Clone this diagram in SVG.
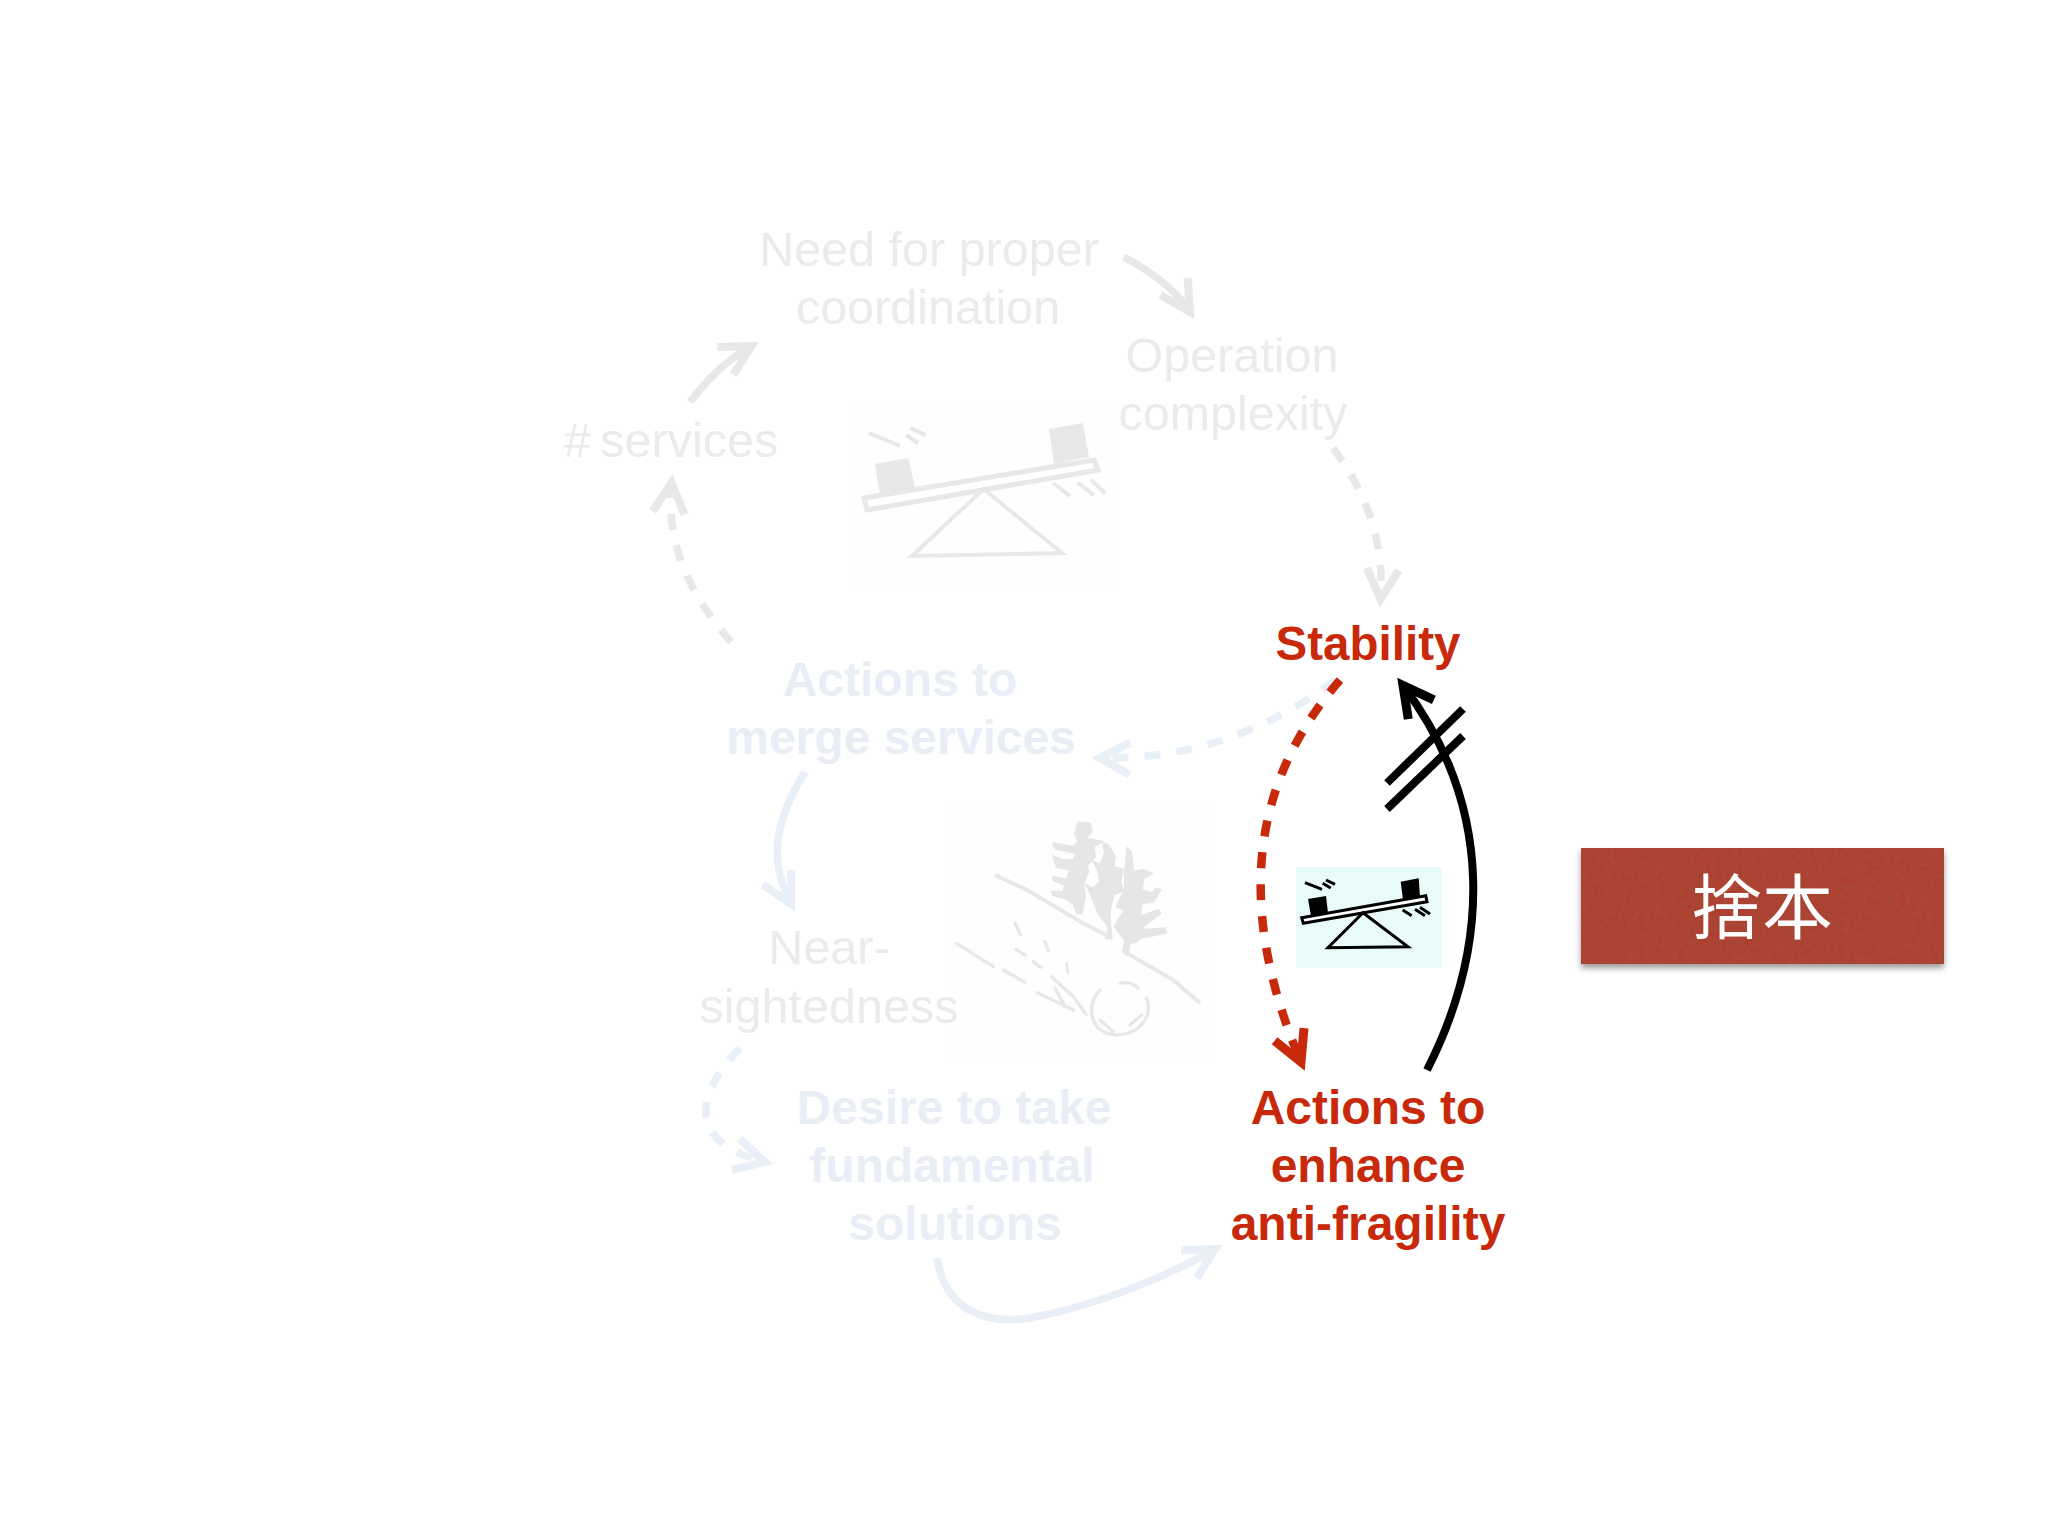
<svg xmlns="http://www.w3.org/2000/svg" width="2048" height="1536" viewBox="0 0 2048 1536">
<style>
text{font-family:"Liberation Sans",Arial,sans-serif;font-size:48.5px;text-anchor:middle}
.g{fill:#ebebeb}
.b{fill:#e9eef6;font-weight:700;font-size:48px}
.r{fill:#c8290b;font-weight:700;font-size:48px}
.c{fill:none;stroke-width:7.5}
.dash{stroke-dasharray:16 16}
.cg{stroke:#e8e8e8}
.cb{stroke:#e9eff7}
.cr{stroke:#c8290b;stroke-width:8.5}
.ck{stroke:#000;stroke-width:8}
.sg{fill:none;stroke:#e8e8e8;stroke-width:4}
.st{fill:none;stroke:#e8e8e8;stroke-width:10;stroke-linecap:round}
.sk{fill:none;stroke:#000;stroke-width:3}
</style>
<defs>
<marker id="hg" markerUnits="userSpaceOnUse" markerWidth="50" markerHeight="50" refX="40" refY="25" orient="auto" overflow="visible"><path d="M10 9L40 25L10 41" fill="none" stroke="#e8e8e8" stroke-width="8"/></marker>
<marker id="hb" markerUnits="userSpaceOnUse" markerWidth="50" markerHeight="50" refX="40" refY="25" orient="auto" overflow="visible"><path d="M10 9L40 25L10 41" fill="none" stroke="#e9eff7" stroke-width="8"/></marker>
<marker id="hr" markerUnits="userSpaceOnUse" markerWidth="50" markerHeight="50" refX="40" refY="25" orient="auto" overflow="visible"><path d="M10 9L40 25L10 41" fill="none" stroke="#c8290b" stroke-width="9"/></marker>
<marker id="hk" markerUnits="userSpaceOnUse" markerWidth="50" markerHeight="50" refX="40" refY="25" orient="auto" overflow="visible"><path d="M10 9L40 25L10 41" fill="none" stroke="#000" stroke-width="9"/></marker>
<filter id="blur" x="-10%" y="-20%" width="120%" height="140%"><feGaussianBlur stdDeviation="3"/></filter>
<filter id="paper" x="0" y="0" width="100%" height="100%">
<feTurbulence type="fractalNoise" baseFrequency="0.18" numOctaves="3" seed="4" result="n"/>
<feColorMatrix in="n" type="matrix" values="0 0 0 0 0.35  0 0 0 0 0.1  0 0 0 0 0.05  0 0 0.5 0.3 -0.25" result="m"/>
<feComposite in="m" in2="SourceGraphic" operator="in" result="t"/>
<feMerge><feMergeNode in="SourceGraphic"/><feMergeNode in="t"/></feMerge>
</filter>
</defs>
<rect width="2048" height="1536" fill="#fff"/>

<g id="illustration-seesaw-faded">
<rect x="848" y="400" width="268" height="190" fill="#fefefe"/>
<polygon points="875,464 908.5,458 915,488 880,495" fill="#e8e8e8"/>
<polygon points="1049,429 1082.6,423 1089,457 1054,464" fill="#e8e8e8"/>
<polygon points="864,498 1094,460 1098,470 867,510" fill="#fff" stroke="#e8e8e8" stroke-width="5"/>
<polygon points="983.5,489 912,556 1062,553" class="sg"/>
<path d="M869 433L900 446M906 435L918 443M910 428L926 435M1053 483L1070 496M1078 483L1094 495M1091 480L1105 493" class="sg"/>
</g>

<g id="illustration-tree-faded">
<rect x="950" y="800" width="265" height="260" fill="#fefefe"/>
<g transform="translate(1030,810) scale(.3333)" fill="#e6e6e6" stroke="#e6e6e6" stroke-width="6">
<polygon points="135,70 145,38 180,40 185,65 165,85 190,90 215,95 190,110 195,140 170,170 175,185 160,220 165,260 155,310 140,310 130,280 105,265 70,255 65,245 100,245 105,225 70,210 70,200 110,210 120,180 80,170 70,140 100,150 130,150 140,130 75,115 70,100 130,110 145,95"/>
<polygon points="220,100 235,105 255,140 250,170 280,180 270,215 280,240 250,255 240,300 240,340 245,385 230,385 235,350 205,310 190,270 170,225 190,235 210,215 205,180 190,155 210,165 225,130"/>
<polygon points="292,115 303,125 310,185 340,180 365,190 340,205 335,240 365,250 380,235 392,240 370,275 335,280 330,320 385,300 392,310 350,340 330,360 405,355 408,368 330,385 320,395 300,400 290,435 280,425 285,390 255,350 265,330 285,300 260,290 285,240 285,190"/>
</g>
<path d="M995 875L1027 890L1081 922L1110 937M1125 952L1173 980L1200 1003" class="sg"/>
<g transform="translate(950,920) scale(.3333)">
<path class="st" d="M20 70L130 140M160 150L225 187M262 218L370 270M305 170L370 230L408 283M315 205L345 260M195 10L212 45M285 65L295 92M198 88L225 105M250 125L272 142M350 130L353 158"/>
<path class="st" d="M450 210C420 240 415 290 445 325C480 355 560 355 590 290C600 265 595 250 590 235M510 190C530 185 550 190 565 205M450 300L490 335M540 315L575 285"/>
</g>
</g>

<g id="connectors">
<path class="c cg" marker-end="url(#hg)" d="M690 402Q718 365 751.500 346"/>
<path class="c cg" marker-end="url(#hg)" d="M1124 257Q1172 283 1190 312"/>
<path class="c cg dash" marker-end="url(#hg)" d="M1333 448C1365 490 1385 540 1380.500 599"/>
<path class="c cg dash" marker-end="url(#hg)" d="M731 642C695 600 665 550 671.500 483"/>
<path class="c cb dash" marker-end="url(#hb)" d="M1335 680C1270 730 1190 760 1100 758"/>
<path class="c cb" marker-end="url(#hb)" d="M805 772C775 820 768 860 791 904"/>
<path class="c cb dash" marker-end="url(#hb)" d="M740 1048C700 1090 680 1140 765 1162"/>
<path class="c cb" marker-end="url(#hb)" d="M937 1258C945 1310 985 1325 1030 1318C1100 1305 1170 1275 1215 1249"/>
<path class="c cr dash" marker-end="url(#hr)" d="M1340 680C1262 770 1228 890 1301 1062"/>
<path class="c ck" marker-end="url(#hk)" d="M1427 1070C1488 950 1497 810 1403 685.500"/>
<path class="c ck" d="M1387 783L1463 709M1387 809L1463 736"/>
</g>

<g id="illustration-seesaw">
<rect x="1296" y="867" width="146" height="101" fill="#e9fbf8"/>
<polygon points="1308,899 1326,896 1328,913 1311,916"/>
<polygon points="1400.700,881.700 1418.700,878.300 1420,897 1403,900"/>
<polygon points="1301.700,917.700 1425.700,895.700 1427,901.700 1303.300,923.300" fill="#fff" stroke="#000" stroke-width="3"/>
<polygon points="1363,912.700 1328,947.700 1408,946.700" class="sk"/>
<path d="M1305 882.700L1322 889.300M1322.700 883.300L1330.700 888M1326 880L1335 884.300M1402.700 910L1411.700 915.700M1415 909.300L1425 915.700M1420 907.300L1430 914" class="sk"/>
</g>

<g id="need"><text class="g" x="929" y="266">Need for proper</text><text class="g" x="928" y="324">coordination</text></g>
<g id="operation"><text class="g" x="1232" y="372">Operation</text><text class="g" x="1233" y="430">complexity</text></g>
<g id="services"><text class="g" x="671" y="457" word-spacing="-4"># services</text></g>
<g id="stability"><text class="r" x="1368" y="660" font-size="47.5" style="font-size:47.500px">Stability</text></g>
<g id="merge"><text class="b" x="900" y="696">Actions to</text><text class="b" x="901" y="754">merge services</text></g>
<g id="near"><text class="g" x="829" y="964">Near-</text><text class="g" x="829" y="1023">sightedness</text></g>
<g id="desire"><text class="b" x="954" y="1124">Desire to take</text><text class="b" x="952" y="1182">fundamental</text><text class="b" x="955" y="1240">solutions</text></g>
<g id="enhance"><text class="r" x="1368" y="1124">Actions to</text><text class="r" x="1368" y="1182">enhance</text><text class="r" x="1368" y="1240">anti-fragility</text></g>

<g id="label-box">
<rect x="1581" y="852" width="363" height="116" fill="#000" opacity=".4" filter="url(#blur)"/>
<rect x="1581" y="848" width="363" height="116" fill="#ad4130" filter="url(#paper)"/>
<text x="1762" y="933" style="font-family:'Noto Sans CJK TC','Noto Sans CJK SC',sans-serif;font-size:71px;fill:#fff">捨本</text>
</g>
</svg>
